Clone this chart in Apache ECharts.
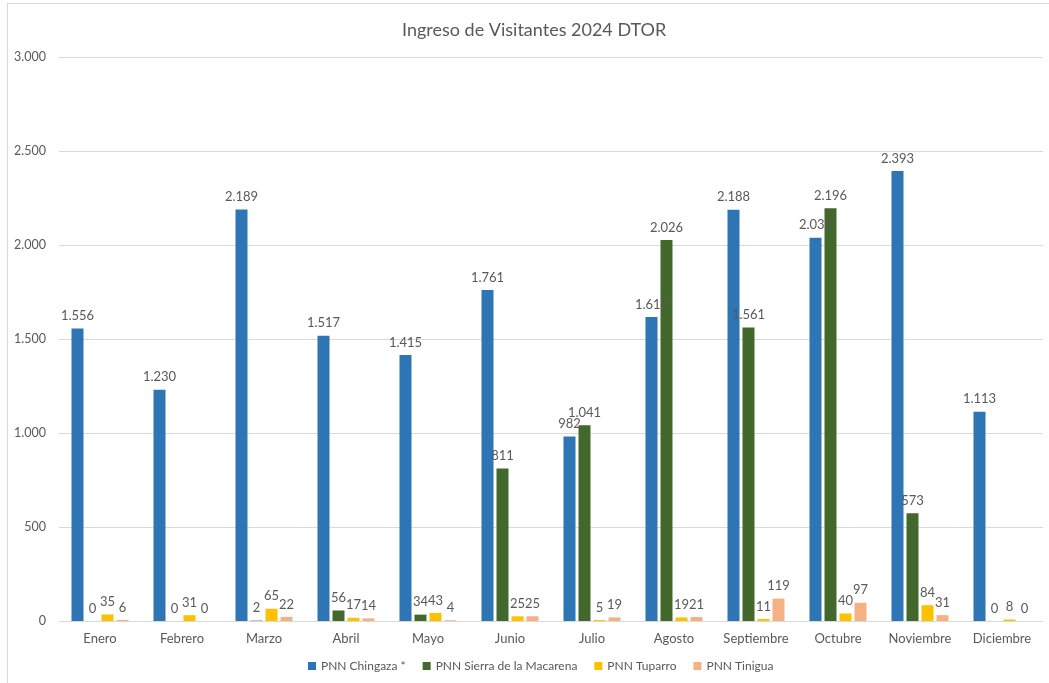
<!DOCTYPE html>
<html>
<head>
<meta charset="utf-8">
<script src="https://cdn.jsdelivr.net/npm/echarts@6/dist/echarts.min.js"></script>
<style>
  html, body { margin: 0; padding: 0; background: #fff; }
  #frame {
    position: absolute; left: 7px; top: 3px; width: 1060px; height: 700px;
    border: 1px solid #d9d9d9;
  }
  #chart { position: absolute; left: 0; top: 0; width: 1049px; height: 683px; }
</style>
</head>
<body>
<div id="frame"></div>
<div id="chart"></div>
<script>
// meses
var months = ['Enero', 'Febrero', 'Marzo', 'Abril', 'Mayo', 'Junio', 'Julio',
  'Agosto', 'Septiembre', 'Octubre', 'Noviembre', 'Diciembre']
// visitantes por parque
var chingaza = [1556, 1230, 2189, 1517, 1415, 1761, 982, 1617, 2188, 2039, 2393, 1113]
var macarena = [0, 0, 2, 56, 34, 811, 1041, 2026, 1561, 2196, 573, 0]
var tuparro = [35, 31, 65, 17, 43, 25, 5, 19, 11, 40, 84, 8]
var tinigua = [6, 0, 22, 14, 4, 25, 19, 21, 119, 97, 31, 0]
var seriesNames = ['PNN Chingaza *', 'PNN Sierra de la Macarena', 'PNN Tuparro', 'PNN Tinigua']
var colors = ['#2e75b6', '#43682b', '#ffc000', '#f4b183']

var font = 'Lato, "Open Sans", sans-serif'
// separador de miles con punto
function fmt(v) {
  return String(v).replace(/\B(?=(\d{3})+(?!\d))/g, '.')
}

// barras
function makeBars(name, data, color) {
  return {
    name: name,
    type: 'bar',
    data: data,
    barWidth: 12,
    barGap: '25%',
    itemStyle: { color: color },
    label: { show: false }
  }
}
// etiquetas en una capa encima de todas las barras (como en Excel)
function makeLabels(name, data) {
  return {
    name: name,
    type: 'bar',
    xAxisIndex: 1,
    zlevel: 1,
    silent: true,
    data: data,
    barWidth: 12,
    barGap: '25%',
    itemStyle: { color: 'rgba(0,0,0,0)' },
    label: {
      show: true,
      position: 'top',
      distance: 6,
      color: '#595959',
      fontSize: 13,
      fontFamily: font,
      formatter: function (p) { return fmt(p.value) }
    }
  }
}

var myChart = echarts.init(document.getElementById('chart'))
myChart.setOption({
  animation: false,
  color: colors,
  title: {
    text: 'Ingreso de Visitantes 2024 DTOR',
    left: 397,
    top: 16,
    textStyle: { color: '#595959', fontSize: 18, fontWeight: 'normal', fontFamily: font }
  },
  legend: {
    data: seriesNames,
    bottom: 6,
    left: 303,
    itemWidth: 8,
    itemHeight: 8,
    itemGap: 17,
    icon: 'rect',
    textStyle: { color: '#595959', fontSize: 12, fontFamily: font }
  },
  grid: {
    left: 59,
    right: 6,
    top: 57,
    bottom: 62
  },
  xAxis: [{
    type: 'category',
    data: months,
    axisTick: { show: false },
    axisLine: { lineStyle: { color: '#d9d9d9' } },
    axisLabel: { color: '#595959', fontSize: 13, margin: 11, interval: 0, fontFamily: font }
  }, {
    type: 'category',
    data: months,
    show: false
  }],
  yAxis: {
    type: 'value',
    min: 0,
    max: 3000,
    interval: 500,
    axisLabel: {
      color: '#595959', fontSize: 12.5, margin: 13, fontFamily: font,
      formatter: function (v) { return fmt(v) }
    },
    splitLine: { lineStyle: { color: '#d9d9d9' } }
  },
  series: [
    makeBars(seriesNames[0], chingaza, colors[0]),
    makeBars(seriesNames[1], macarena, colors[1]),
    makeBars(seriesNames[2], tuparro, colors[2]),
    makeBars(seriesNames[3], tinigua, colors[3]),
    makeLabels(seriesNames[0], chingaza),
    makeLabels(seriesNames[1], macarena),
    makeLabels(seriesNames[2], tuparro),
    makeLabels(seriesNames[3], tinigua)
  ]
})
</script>
</body>
</html>
